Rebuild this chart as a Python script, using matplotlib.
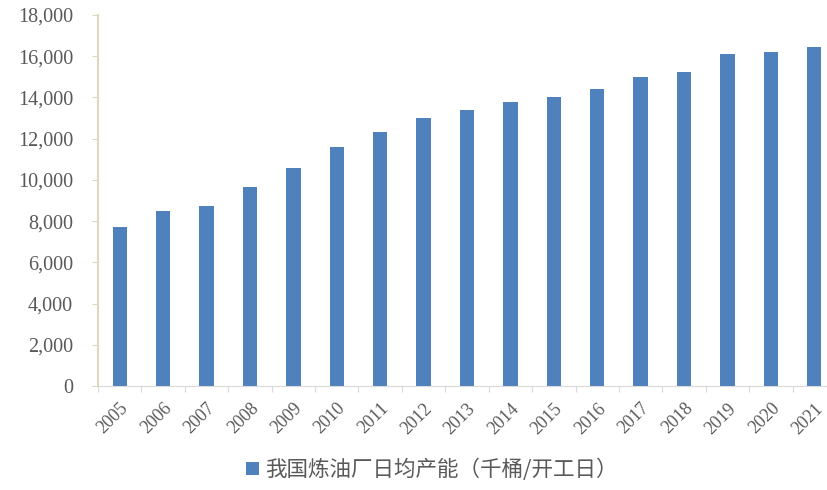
import matplotlib.pyplot as plt
from matplotlib.ticker import FuncFormatter

plt.rcParams['font.family'] = ['Liberation Serif', 'Noto Sans CJK SC', 'DejaVu Sans']

years = ['2005', '2006', '2007', '2008', '2009', '2010', '2011', '2012', '2013',
         '2014', '2015', '2016', '2017', '2018', '2019', '2020', '2021']
capacity = [7700, 8500, 8750, 9650, 10600, 11600, 12300, 13000, 13400,
            13800, 14000, 14400, 15000, 15250, 16100, 16200, 16450]
label = '我国炼油厂日均产能（千桶/开工日）'

fig = plt.figure(figsize=(8.28, 4.9), dpi=100)
# axes runs a bit past the right edge, like the source image
ax = fig.add_axes([98 / 828, 1 - 386 / 490, 738 / 828, 371 / 490])

x = list(range(len(years)))
bars = ax.bar(x, capacity, width=0.33, color='#4F81BD', label=label)

ax.set_xlim(-0.5, len(years) - 0.5)
ax.set_ylim(0, 18000)
ax.set_yticks(range(0, 18001, 2000))
ax.yaxis.set_major_formatter(FuncFormatter(lambda v, p: f'{int(v):,}'))

ax.set_xticks([i - 0.5 for i in x], minor=False)
ax.set_xticklabels([])
ax.set_xticks(x, minor=True)
ax.set_xticklabels(years, minor=True, rotation=45, ha='right', rotation_mode='anchor',
                   fontsize=13, color='#595959')
ax.tick_params(axis='x', which='minor', length=0, pad=10)
ax.tick_params(axis='x', which='major', length=4, color='#D9D9D9', direction='out')
ax.tick_params(axis='y', length=4, color='#DDD8C0', labelsize=14.5, labelcolor='#595959', pad=14)

for s in ['top', 'right']:
    ax.spines[s].set_visible(False)
ax.spines['left'].set_color('#DDD8C0')
ax.spines['left'].set_linewidth(1.5)
ax.spines['bottom'].set_color('#D9D9D9')

leg = fig.legend(handles=[bars], labels=[label], loc='center', bbox_to_anchor=(432 / 828, 1 - 470 / 490),
                 frameon=False, handlelength=0.6, handleheight=0.6, handletextpad=0.3,
                 prop={'family': ['Noto Sans CJK SC'], 'size': 15.5})
for t in leg.get_texts():
    t.set_color('#595959')

fig.savefig('out.png', dpi=100)
